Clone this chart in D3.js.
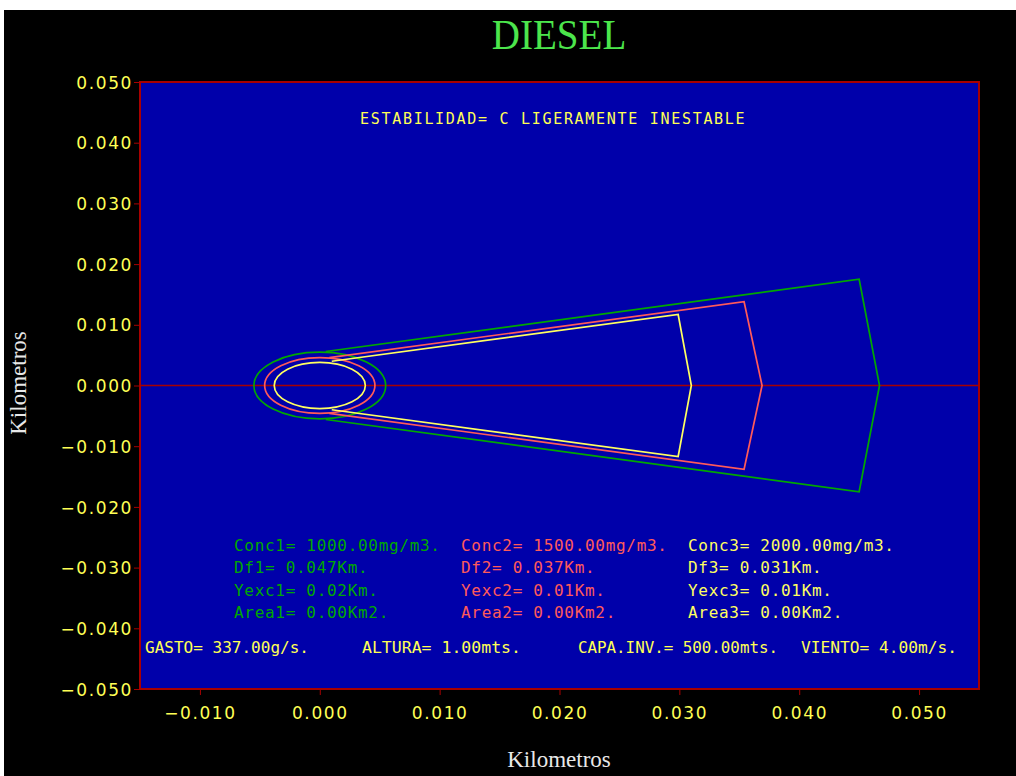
<!DOCTYPE html>
<html><head><meta charset="utf-8">
<script src="https://cdn.jsdelivr.net/npm/d3@7"></script>
<style>html,body{margin:0;padding:0;background:#fff;overflow:hidden}</style>
</head><body><svg id="c" width="1016" height="776"></svg>
<script>
// ---- data ----
const titleText = "DIESEL";
const axisTitle = "Kilometros";
const xDomain = [-0.015, 0.055];
const yDomain = [-0.05, 0.05];
const xTicks = [-0.010, 0.000, 0.010, 0.020, 0.030, 0.040, 0.050];
const yTicks = [0.050, 0.040, 0.030, 0.020, 0.010, 0.000, -0.010, -0.020, -0.030, -0.040, -0.050];
const stabilityText = "ESTABILIDAD= C LIGERAMENTE INESTABLE";
const seriesIndex = [1, 2, 3];
const concentrations = [1000.00, 1500.00, 2000.00];      // mg/m3
const seriesColors = ["#00a800", "#ff5a5a", "#ffff60"];
const sourceRadius = [0.0055, 0.0046, 0.0038];          // km
const plumeStartX = [0.0005, 0.0008, 0.0010];
const plumeStartHalf = [0.0056, 0.0046, 0.0040];
const cornerX = [0.0450, 0.0354, 0.0299];
const cornerHalf = [0.0175, 0.0138, 0.0117];
const tipX = [0.0467, 0.0369, 0.0310];
const dfValues = [0.047, 0.037, 0.031];
const yexcValues = [0.02, 0.01, 0.01];
const areaValues = [0.00, 0.00, 0.00];
const paramLabels = ["GASTO= 337.00g/s.", "ALTURA= 1.00mts.", "CAPA.INV.= 500.00mts.", "VIENTO= 4.00m/s."];

// ---- layout ----
const W = 1016, H = 776;
const L = 140, R = 979, T = 82, B = 689;
const svg = d3.select("#c");
svg.append("rect").attr("x", 4).attr("y", 10).attr("width", W - 4).attr("height", H - 10).attr("fill", "#000");

const x = d3.scaleLinear().domain(xDomain).range([L, R]);
const y = d3.scaleLinear().domain(yDomain).range([B, T]);

svg.append("rect").attr("x", L).attr("y", T).attr("width", R - L).attr("height", B - T)
  .attr("fill", "#0000aa").attr("stroke", "#a80000").attr("stroke-width", 2);

// title
svg.append("text").attr("x", 559).attr("y", 49).attr("text-anchor", "middle")
  .attr("font-family", "Liberation Serif").attr("font-size", 42).attr("fill", "#4ce64c")
  .attr("transform", "translate(559,0) scale(0.93,1) translate(-559,0)")
  .text(titleText);

// axes
const tickFont = "DejaVu Sans";
const xAxis = d3.axisBottom(x).tickValues(xTicks).tickSize(6).tickPadding(10).tickFormat(d3.format(".3f"));
const gx = svg.append("g").attr("transform", `translate(0,${B})`).call(xAxis);
gx.select(".domain").remove();
gx.selectAll("line").attr("stroke", "#a80000");
gx.selectAll("text").attr("fill", "#ffff55").attr("font-family", tickFont).attr("font-size", 17)
  .attr("letter-spacing", 1.6).attr("dy", "0.85em").text(d => d3.format(".3f")(d).replace("-", "\u2212"));

const yAxis = d3.axisLeft(y).tickValues(yTicks).tickSize(6).tickPadding(1).tickFormat(d3.format(".3f"));
const gy = svg.append("g").attr("transform", `translate(${L},0)`).call(yAxis);
gy.select(".domain").remove();
gy.selectAll("line").attr("stroke", "#a80000");
gy.selectAll("text").attr("fill", "#ffff55").attr("font-family", tickFont).attr("font-size", 17)
  .attr("letter-spacing", 1.6).attr("dy", "0.36em").text(d => d3.format(".3f")(d).replace("-", "\u2212"));

// axis titles
svg.append("text").attr("x", 559).attr("y", 767).attr("text-anchor", "middle")
  .attr("font-family", "Liberation Serif").attr("font-size", 23).attr("fill", "#e8e8e8").text(axisTitle);
svg.append("text").attr("transform", "translate(26,383) rotate(-90)").attr("text-anchor", "middle")
  .attr("font-family", "Liberation Serif").attr("font-size", 23).attr("fill", "#e8e8e8").text(axisTitle);

// center line
svg.append("line").attr("x1", L).attr("x2", R).attr("y1", y(0)).attr("y2", y(0))
  .attr("stroke", "#a80000").attr("stroke-width", 1.5);

// plumes
const plot = svg.append("g");
const line = d3.line().x(d => x(d[0])).y(d => y(d[1]));
seriesIndex.forEach((s, i) => {
  plot.append("ellipse").attr("cx", x(0)).attr("cy", y(0))
    .attr("rx", x(sourceRadius[i]) - x(0)).attr("ry", y(0) - y(sourceRadius[i]))
    .attr("fill", "none").attr("stroke", seriesColors[i]).attr("stroke-width", 1.7);
  const pts = [
    [plumeStartX[i], plumeStartHalf[i]],
    [cornerX[i], cornerHalf[i]],
    [tipX[i], 0],
    [cornerX[i], -cornerHalf[i]],
    [plumeStartX[i], -plumeStartHalf[i]]
  ];
  plot.append("path").attr("d", line(pts)).attr("fill", "none")
    .attr("stroke", seriesColors[i]).attr("stroke-width", 1.7).attr("stroke-linejoin", "miter");
});

// annotations
const mono = "DejaVu Sans Mono";
svg.append("text").attr("x", 360).attr("y", 124).attr("font-family", mono).attr("font-size", 15)
  .attr("letter-spacing", 1.7).attr("fill", "#ffff55").text(stabilityText);

const colX = [234, 461, 688];
const rowY = [551, 573, 596, 618];
seriesIndex.forEach((s, i) => {
  const lines = [
    `Conc${s}= ${concentrations[i].toFixed(2)}mg/m3.`,
    `Df${s}= ${dfValues[i].toFixed(3)}Km.`,
    `Yexc${s}= ${yexcValues[i].toFixed(2)}Km.`,
    `Area${s}= ${areaValues[i].toFixed(2)}Km2.`
  ];
  lines.forEach((t, j) => {
    svg.append("text").attr("x", colX[i]).attr("y", rowY[j]).attr("font-family", mono)
      .attr("font-size", 16).attr("letter-spacing", 0.7).attr("fill", seriesColors[i]).text(t);
  });
});

const paramX = [145, 362, 578, 801];
const paramW = [164, 159, 200, 156];
paramLabels.forEach((t, i) => {
  svg.append("text").attr("x", paramX[i]).attr("y", 653).attr("font-family", mono)
    .attr("font-size", 15).attr("fill", "#ffff55")
    .attr("textLength", paramW[i]).attr("lengthAdjust", "spacingAndGlyphs").text(t);
});
</script></body></html>
